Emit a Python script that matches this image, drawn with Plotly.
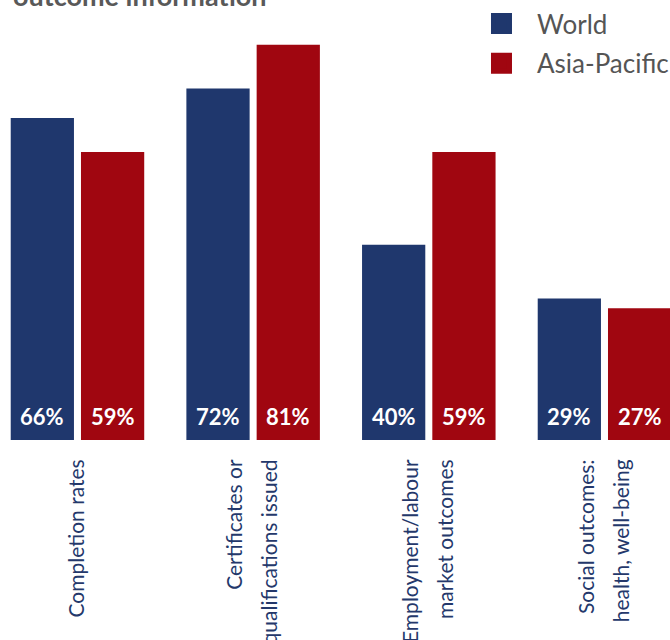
import plotly.graph_objects as go

categories = ["Completion rates", "Certificates or<br>qualifications issued",
              "Employment/labour<br>market outcomes", "Social outcomes:<br>health, well-being"]
series_names = ["World", "Asia-Pacific"]
world = [66, 72, 40, 29]
asia = [59, 81, 59, 27]
title_text = "outcome information"

colors = ["#1F376D", "#A00610"]
BARGAP = 0.2
GROUPGAP = 0.1
XRANGE = [-0.441, 3.373]
YRANGE = [0, 90.16]
LINE_OFF = 0.0996  # half line pitch in category units

idx = list(range(len(categories)))
fig = go.Figure()
for name, vals, col in zip(series_names, [world, asia], colors):
    fig.add_trace(go.Bar(x=idx, y=vals, name=name, marker_color=col,
                         marker_line_width=0, showlegend=False, hoverinfo="y+name"))
    fig.add_trace(go.Scatter(x=[None], y=[None], mode="markers", name=name, legendgroup=name,
                             marker=dict(symbol="square", size=16, color=col,
                                         line=dict(color=col, width=5))))

# value labels near bar bottoms
ann = []
for s, vals in enumerate([world, asia]):
    off = (1 - BARGAP) / 4 * (1 if s else -1)
    for i, v in enumerate(vals):
        ann.append(dict(x=i + off, y=0, xref="x", yref="y", text=f"{v}%",
                        showarrow=False, yanchor="bottom", yshift=8,
                        font=dict(family="Lato", size=22, color="white", weight="bold")))

ann.append(dict(x=11 / 670, y=0.968, xref="paper", yref="paper", text=title_text,
                showarrow=False, xanchor="left", yanchor="bottom",
                font=dict(family="Lato", size=27, color="#595959", weight="bold")))

# tick label lines
tickvals, ticktext = [], []
for i, cat in enumerate(categories):
    lines = cat.split("<br>")
    n = len(lines)
    for k, ln in enumerate(lines):
        tickvals.append(i + (k - (n - 1) / 2) * 2 * LINE_OFF)
        ticktext.append(ln)

fig.update_layout(
    width=670, height=640, autosize=False,
    margin=dict(l=0, r=0, t=0, b=200, pad=0, autoexpand=False),
    paper_bgcolor="white", plot_bgcolor="white",
    barmode="group", bargap=BARGAP, bargroupgap=GROUPGAP,
    font=dict(family="Lato", color="#555555"),
    annotations=ann,
    legend=dict(x=0.6955, y=1, xanchor="left", yanchor="top",
                font=dict(family="Lato", size=26, color="#555555"),
                bgcolor="rgba(0,0,0,0)", itemwidth=61, tracegroupgap=3,
                traceorder="grouped"),
    xaxis=dict(range=XRANGE, tickmode="array", tickvals=tickvals, ticktext=ticktext,
               tickangle=-90, ticks="outside", ticklen=10, tickcolor="rgba(0,0,0,0)",
               tickfont=dict(family="Lato", size=21, color="#24386B"),
               showgrid=False, zeroline=False, showline=False, fixedrange=True),
    yaxis=dict(range=YRANGE, visible=False, showgrid=False, zeroline=False, fixedrange=True),
)
fig.write_html("out.html", config={"displayModeBar": False},
               post_script="document.body.style.margin='0';document.body.style.overflow='hidden';")
